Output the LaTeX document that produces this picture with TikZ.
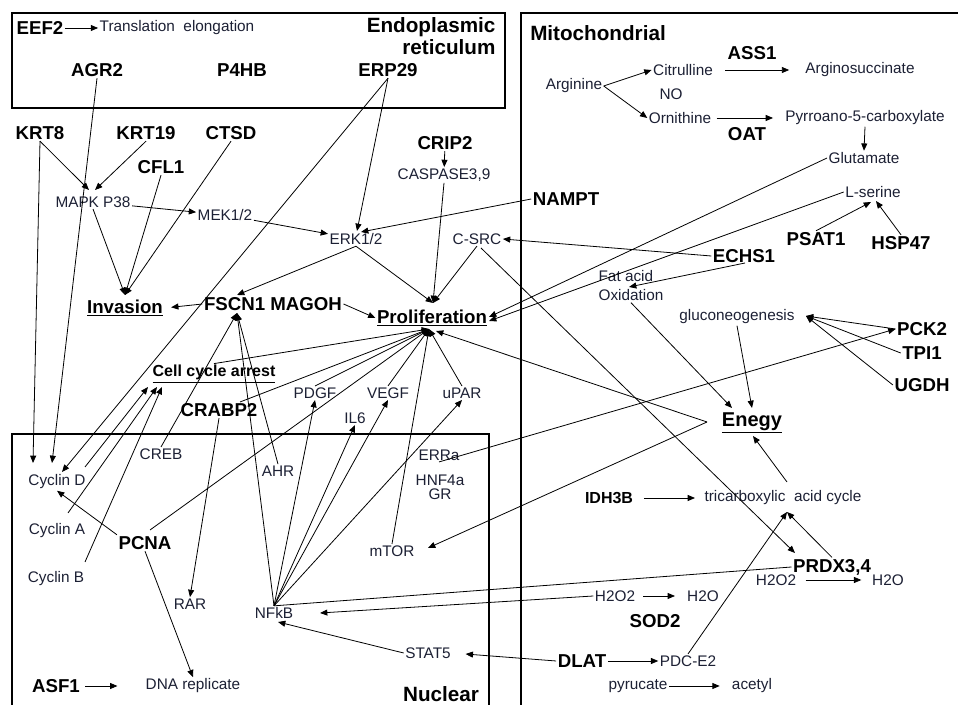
\documentclass[tikz,border=0pt]{standalone}
\usepackage{fontspec}
\setmainfont{Liberation Sans}
\usetikzlibrary{arrows.meta}
\definecolor{txt}{RGB}{28,32,52}
\begin{document}
\begin{tikzpicture}[x=0.75pt,y=-0.75pt,
 gene/.style={font=\fontsize{14}{16}\selectfont\bfseries, inner sep=1pt},
 small/.style={font=\fontsize{12}{14}\selectfont\bfseries, inner sep=1pt},
 lbl/.style={font=\fontsize{11.5}{13}\selectfont, text=txt, inner sep=1pt},
 ttl/.style={font=\fontsize{15.5}{16.5}\selectfont\bfseries, inner sep=1pt},
 ar/.style={-{Triangle[length=5.5pt,width=4.5pt]}, line width=0.6pt},
 ln/.style={line width=0.6pt},
 box/.style={line width=0.8pt}]
\useasboundingbox (0,0) rectangle (958,705);
\fill[white] (0,0) rectangle (958,705);
% compartments
\draw[box] (12,13) rectangle (505,108);
\draw[box] (521,705) -- (521,13) -- (958,13);
\draw[box] (12,705) -- (12,434) -- (489,434) -- (489,705);

% ER
\node[gene] (EEF2) at (40,28) {EEF2};
\node[lbl] (transl) at (177,28) {Translation\ \ elongation};
\node[ttl, align=right, anchor=north east] (ERt) at (497,16) {Endoplasmic\\reticulum};
\node[gene] (AGR2) at (97,70) {AGR2};
\node[gene] (P4HB) at (242,70) {P4HB};
\node[gene] (ERP29) at (388,70) {ERP29};

% cytoplasm
\node[gene] (KRT8) at (40,133) {KRT8};
\node[gene] (KRT19) at (146,133) {KRT19};
\node[gene] (CTSD) at (231,133) {CTSD};
\node[gene] (CFL1) at (161,167) {CFL1};
\node[gene] (CRIP2) at (445,143) {CRIP2};
\node[lbl] (CASP) at (444,175) {CASPASE3,9};
\node[lbl] (MAPK) at (93,202) {MAPK P38};
\node[lbl] (MEK) at (225,215) {MEK1/2};
\node[lbl] (ERK) at (356,239) {ERK1/2};
\node[lbl] (CSRC) at (477,239) {C-SRC};
\node[gene] (NAMPT) at (566,199) {NAMPT};
\node[gene] (Invasion) at (125,308) {\underline{Invasion}};
\node[gene] (FSCN) at (273,304) {FSCN1 MAGOH};
\node[gene] (Prolif) at (432,318) {\underline{Proliferation}};
\node[small] (CCA) at (214,374) {\underline{Cell cycle arrest}};
\node[lbl] (PDGF) at (315,393) {PDGF};
\node[lbl] (VEGF) at (388,393) {VEGF};
\node[lbl] (uPAR) at (462,393) {uPAR};
\node[lbl] (IL6) at (355,418) {IL6};
\node[gene] (CRABP2) at (219,410) {CRABP2};

% nucleus
\node[lbl] (CREB) at (161,454) {CREB};
\node[lbl] (ERRa) at (439,455) {ERRa};
\node[lbl] (AHR) at (278,471) {AHR};
\node[lbl, align=center, font=\fontsize{11.5}{10.5}\selectfont] (HNF) at (440,487) {HNF4a\\GR};
\node[lbl] (CycD) at (57,482) {Cyclin D};
\node[lbl] (CycA) at (57,531) {Cyclin A};
\node[gene] (PCNA) at (145,543) {PCNA};
\node[lbl] (CycB) at (56,579) {Cyclin B};
\node[lbl] (mTOR) at (392,551) {mTOR};
\node[lbl] (RAR) at (190,604) {RAR};
\node[lbl] (NFkB) at (274,613) {NFkB};
\node[lbl] (STAT5) at (428,653) {STAT5};
\node[gene] (ASF1) at (56,686) {ASF1};
\node[lbl] (DNA) at (193,686) {DNA replicate};
\node[ttl] (Nuc) at (441,694) {Nuclear};

% mitochondrial
\node[ttl] (Mito) at (598,33) {Mitochondrial};
\node[gene] (ASS1) at (752,53) {ASS1};
\node[lbl] (Cit) at (683,70) {Citrulline};
\node[lbl] (Argsuc) at (860,70) {Arginosuccinate};
\node[lbl] (Arg) at (574,86) {Arginine};
\node[lbl] (NO) at (671,94) {NO};
\node[lbl] (Orn) at (680,118) {Ornithine};
\node[lbl] (Pyr) at (865,118) {Pyrroano-5-carboxylate};
\node[gene] (OAT) at (747,134) {OAT};
\node[lbl] (Glu) at (864,158) {Glutamate};
\node[lbl] (Ser) at (873,192) {L-serine};
\node[gene] (PSAT1) at (816,239) {PSAT1};
\node[gene] (HSP47) at (901,243) {HSP47};
\node[gene] (ECHS1) at (744,256) {ECHS1};
\node[lbl, align=left, font=\fontsize{11.5}{14.25}\selectfont] (FAO) at (631,286) {Fat acid\\Oxidation};
\node[lbl] (Gluco) at (737,317) {gluconeogenesis};
\node[gene] (PCK2) at (922,329) {PCK2};
\node[gene] (TPI1) at (922,353) {TPI1};
\node[gene] (UGDH) at (922,385) {UGDH};
\node[gene, font=\fontsize{15}{17}\selectfont\bfseries] (Enegy) at (752,423) {\underline{Enegy}};
\node[small] (IDH3B) at (609,498) {IDH3B};
\node[lbl] (TCA) at (783,498) {tricarboxylic\ \ acid cycle};
\node[gene] (PRDX) at (832,567) {PRDX3,4};
\node[lbl] (H2O2b) at (776,580) {H2O2};
\node[lbl] (H2Ob) at (888,580) {H2O};
\node[lbl] (H2O2a) at (615,596) {H2O2};
\node[lbl] (H2Oa) at (703,596) {H2O};
\node[gene] (SOD2) at (655,621) {SOD2};
\node[gene] (DLAT) at (582,661) {DLAT};
\node[lbl] (PDC) at (688,661) {PDC-E2};
\node[lbl] (pyr) at (638,686) {pyrucate};
\node[lbl] (acetyl) at (752,686) {acetyl};

% helper coordinates (arrow tips / free ends)
\coordinate (cdA) at (33,463);
\coordinate (cdB) at (52,463);
\coordinate (cdC) at (62,472);
\coordinate (mpA) at (89,190);
\coordinate (mpB) at (95,190);
\coordinate (erkA) at (357,231);
\coordinate (erkB) at (361,232);
\coordinate (inv) at (125,295);
\coordinate (Pt) at (433,303);
\coordinate (Pb) at (429,329);
\coordinate (PbR) at (436,331);
\coordinate (PrA) at (489,317);
\coordinate (PrB) at (489,321);
\coordinate (fsA) at (237,295);
\coordinate (fsB) at (237,313);
\coordinate (faA) at (629,287);
\coordinate (prA) at (795,553);
\coordinate (env) at (707,422);
\coordinate (mtA) at (428,548);
\coordinate (glA) at (806,316);
\coordinate (serA) at (871,202);
\coordinate (serB) at (876,201);
\coordinate (enA) at (732,408);
\coordinate (enB) at (752,408);
\coordinate (enC) at (753,436);
\coordinate (tcA) at (787,512);
\coordinate (tcB) at (787,482);
\coordinate (nfA) at (320,613);
\coordinate (nfB) at (278,622);
\coordinate (ccaA) at (148,387);
\coordinate (ccaB) at (157,387);
\coordinate (ccaC) at (162,387);
\coordinate (crA) at (240,402);
\coordinate (cyAs) at (68,513);
\coordinate (cyBs) at (85,562);
\coordinate (cyDs) at (85,467);
\coordinate (pcS) at (150,530);
\coordinate (ecS) at (745,263);
\coordinate (csS) at (481,248);

% ER edges
\draw[ar] (EEF2) -- (transl);
\draw[ar] (AGR2.south) -- (cdB);
\draw[ar] (ERP29.south) -- (erkA);
\draw[ar] (ERP29.south) -- (cdC);

% cytoplasm edges
\draw[ar] (KRT8.south) -- (cdA);
\draw[ar] (KRT8.south) -- (mpA);
\draw[ar] (KRT19.south) -- (mpB);
\draw[ar] (MAPK) -- (MEK);
\draw[ar] (MEK) -- (ERK);
\draw[ar] (MAPK.south) -- (inv);
\draw[ar] (CFL1.south) -- (inv);
\draw[ar] (CTSD.south) -- (inv);
\draw[ar] (CRIP2) -- (CASP);
\draw[ar] (CASP.south) -- (Pt);
\draw[ar] (ERK.south) -- (Pt);
\draw[ar] (CSRC.south) -- (Pt);
\draw[ar] (NAMPT.west) -- (erkB);
\draw[ar] (ERK.south) -- (fsA);
\draw[ar, shorten >=5pt] (FSCN.west) -- (Invasion.east);
\draw[ar] (FSCN.east) -- (Prolif.west);
\draw[ar] (ECHS1.west) -- (CSRC.east);
\draw[ar] (ecS) -- (faA);
\draw[ar] (csS) -- (prA);
\draw[ar] (Glu.west) -- (PrA);
\draw[ar] (Ser.west) -- (PrB);
\draw[ar] (env) -- (PbR);
\draw[ar] (env) -- (mtA);
\draw[ar] (ERRa.south) -- (PCK2.west);
\draw[ar] (CCA.north) -- (Pb);
\draw[ar] (crA) -- (Pb);
\draw[ar] (pcS) -- (Pb);
\draw[ar] (PDGF.north) -- (Pb);
\draw[ar] (VEGF.north) -- (Pb);
\draw[ar] (uPAR.north) -- (Pb);
\draw[ar] (mTOR.north) -- (Pb);
\draw[ar] (CRABP2.south) -- (RAR.north);

% nucleus edges
\draw[ar] (cyDs) -- (ccaA);
\draw[ar] (cyAs) -- (ccaB);
\draw[ar] (cyBs) -- (ccaC);
\draw[ar] (PCNA.north west) -- (CycD.south);
\draw[ar] (PCNA.south) -- (DNA.north);
\draw[ar, shorten <=3pt, shorten >=20pt] (ASF1.east) -- (DNA.west);
\draw[ar] (CREB.north) -- (fsB);
\draw[ar] (AHR.north) -- (fsB);
\draw[ar] (NFkB.north) -- (fsB);
\draw[ar] (NFkB.north) -- (PDGF.south);
\draw[ar] (NFkB.north) -- (IL6.south);
\draw[ar] (NFkB.north) -- (VEGF.south);
\draw[ar] (NFkB.north) -- (uPAR.south);
\draw[ln] (NFkB.north) -- (PRDX.west);
\draw[ar] (H2O2a.west) -- (nfA);
\draw[ar] (STAT5.west) -- (nfB);
\draw[ar, shorten >=10pt] (DLAT.west) -- (STAT5.east);

% mitochondrial edges
\draw[ar] (Arg.east) -- (Cit.west);
\draw[ar] (Arg.east) -- (Orn.west);
\draw[ar, shorten <=8pt, shorten >=11pt] (Cit.east) -- (Argsuc.west);
\draw[ar, shorten <=3pt, shorten >=8pt] (Orn.east) -- (Pyr.west);
\draw[ar] (Pyr.south) -- (Glu.north);
\draw[ar] (PSAT1.north) -- (serA);
\draw[ar] (HSP47.north) -- (serB);
\draw[ar] (PCK2.west) -- (glA);
\draw[ar] (TPI1.west) -- (glA);
\draw[ar] (UGDH.west) -- (glA);
\draw[ar] (FAO.south) -- (enA);
\draw[ar] (Gluco.south) -- (enB);
\draw[ar] (tcB) -- (enC);
\draw[ar, shorten <=7pt, shorten >=6pt] (IDH3B.east) -- (TCA.west);
\draw[ar] (PRDX.north) -- (tcA);
\draw[ar] (PDC.north) -- (tcA);
\draw[ar, shorten <=6pt, shorten >=7pt] (H2O2b.east) -- (H2Ob.west);
\draw[ar, shorten <=5pt, shorten >=8pt] (H2O2a.east) -- (H2Oa.west);
\draw[ar] (DLAT.east) -- (PDC.west);
\draw[ar, shorten >=8pt] (pyr.east) -- (acetyl.west);
\end{tikzpicture}
\end{document}
